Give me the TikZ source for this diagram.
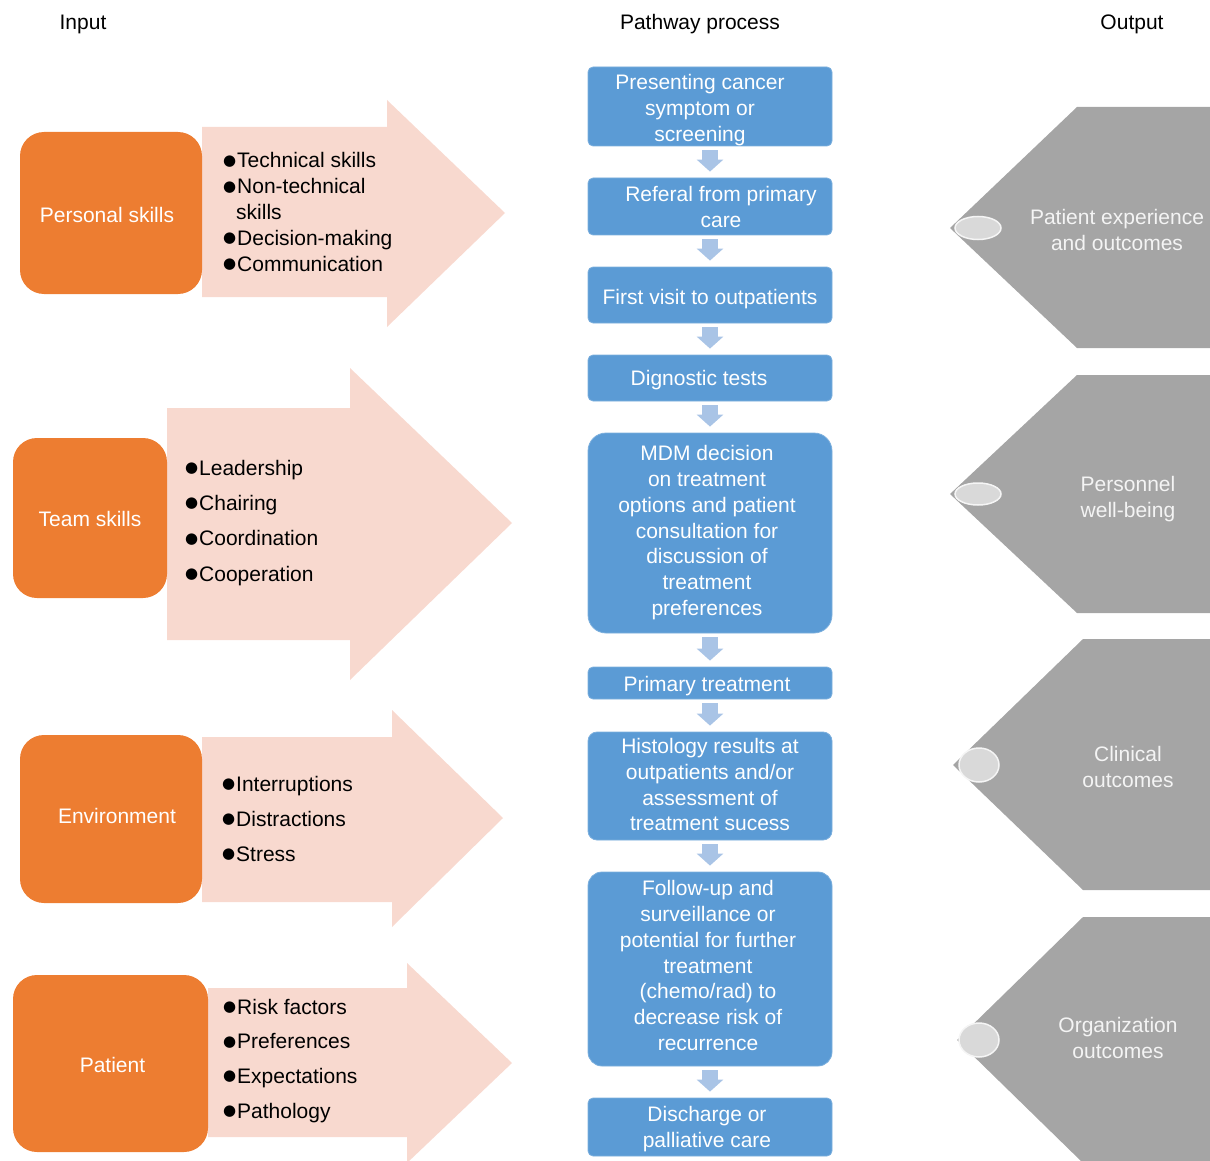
\documentclass[tikz,border=0pt]{standalone}
\usepackage{fontspec}
\setmainfont{Liberation Sans}
\newfontfamily\dejavu{DejaVu Sans}
\usetikzlibrary{arrows.meta,shapes.geometric}
\definecolor{orangeC}{HTML}{ED7D31}
\definecolor{pinkC}{HTML}{F8D9CF}
\definecolor{blueC}{HTML}{5B9BD5}
\definecolor{arrowC}{HTML}{A9C4E6}
\definecolor{grayC}{HTML}{A5A5A5}
\definecolor{ellC}{HTML}{D9D9D9}
\definecolor{txtC}{HTML}{F4F4F4}
\newcommand{\btext}[3][3pt]{\hspace*{#2}\raisebox{-#1}[\height][\depth]{\begin{tabular}{@{}c@{}}#3\end{tabular}}}
\newcommand{\bl}{\makebox[14pt][l]{\raisebox{2.5pt}{\dejavu\fontsize{15}{15}\selectfont ●}}}
\newcommand{\blist}[2]{{\renewcommand{\arraystretch}{#1}\begin{tabular}[t]{@{}l@{}}#2\end{tabular}}}
\begin{document}
\begin{tikzpicture}[x=1pt,y=-1pt,
  every node/.style={font=\fontsize{21}{25.8}\selectfont, inner sep=0pt},
  bluebox/.style={fill=blueC, draw=blueC!80!white, line width=0.8pt, rounded corners=5pt,
    minimum width=244pt, text=white},
  orangebox/.style={fill=orangeC, rounded corners=24pt, text=white},
  pinkarrow/.style={fill=pinkC},
  grayshape/.style={fill=grayC},
  dotmark/.style={ellipse, fill=ellC, draw=white!92!gray, line width=1.5pt},
  graytext/.style={text=txtC},
  listtext/.style={anchor=base west, text=black},
  flow/.style={draw=arrowC, line width=16pt, -{Triangle[width=26pt,length=12pt]},
    shorten <=4pt, shorten >=6pt}
]
\useasboundingbox (0,0) rectangle (1210,1161);

% headers
\node (hin) at (83,24) {Input};
\node (hpath) at (700,24) {Pathway process};
\node (hout) at (1132,24) {Output};

% pink arrows
\fill[pinkarrow] (202,127) -- (387,127) -- (387,100) -- (505,213) -- (387,327) -- (387,297) -- (202,297) -- cycle;
\fill[pinkarrow] (167,408) -- (350,408) -- (350,368) -- (512,523) -- (350,680) -- (350,640) -- (167,640) -- cycle;
\fill[pinkarrow] (202,737) -- (392,737) -- (392,710) -- (503,818) -- (392,927) -- (392,902) -- (202,902) -- cycle;
\fill[pinkarrow] (208,988) -- (407,988) -- (407,963) -- (512,1063) -- (407,1163) -- (407,1137) -- (208,1137) -- cycle;

% orange boxes
\node[orangebox, minimum width=182pt, minimum height=162pt] (o1) at (111,213) {\btext[4pt]{-8pt}{Personal skills}};
\node[orangebox, minimum width=154pt, minimum height=160pt] (o2) at (90,518) {\btext[3pt]{0pt}{Team skills}};
\node[orangebox, minimum width=182pt, minimum height=168pt] (o3) at (111,819) {\btext[-1pt]{12pt}{Environment}};
\node[orangebox, minimum width=195pt, minimum height=177pt] (o4) at (110.5,1063.5) {\btext[4pt]{4pt}{Patient}};

% lists
\node[listtext] (l1) at (223,168) {\blist{1}{\bl Technical skills\\\bl Non-technical\\\hspace*{13pt}skills\\\bl Decision-making\\\bl Communication}};
\node[listtext] (l2) at (185,475) {\blist{1.37}{\bl Leadership\\\bl Chairing\\\bl Coordination\\\bl Cooperation}};
\node[listtext] (l3) at (222,791) {\blist{1.357}{\bl Interruptions\\\bl Distractions\\\bl Stress}};
\node[listtext] (l4) at (223,1014) {\blist{1.345}{\bl Risk factors\\\bl Preferences\\\bl Expectations\\\bl Pathology}};

% pathway boxes
\node[bluebox, minimum height=79pt] (b1) at (710,106.5) {\btext[4pt]{-20pt}{Presenting cancer\\symptom or\\screening}};
\node[bluebox, minimum height=57pt] (b2) at (710,206.5) {\btext[3pt]{22pt}{Referal from primary\\care}};
\node[bluebox, minimum height=56pt] (b3) at (710,295) {\btext[4pt]{0pt}{First visit to outpatients}};
\node[bluebox, minimum height=46pt] (b4) at (710,378) {\btext[2pt]{-22pt}{Dignostic tests}};
\node[bluebox, minimum height=200pt, rounded corners=18pt] (b5) at (710,533) {\btext[0pt]{-6pt}{MDM decision\\on treatment\\options and patient\\consultation for\\discussion of\\treatment\\preferences}};
\node[bluebox, minimum height=32pt] (b6) at (710,683) {\btext[3pt]{-6pt}{Primary treatment}};
\node[bluebox, minimum height=108pt, rounded corners=9pt] (b7) at (710,786) {\btext[1pt]{0pt}{Histology results at\\outpatients and/or\\assessment of\\treatment sucess}};
\node[bluebox, minimum height=194pt, rounded corners=14pt] (b8) at (710,969) {\btext[-1pt]{-4pt}{Follow-up and\\surveillance or\\potential for further\\treatment\\(chemo/rad) to\\decrease risk of\\recurrence}};
\node[bluebox, minimum height=58pt] (b9) at (710,1127) {\btext[2pt]{-6pt}{Discharge or\\palliative care}};

% connectors
\draw[flow] (b1) -- (b2);
\draw[flow] (b2) -- (b3);
\draw[flow] (b3) -- (b4);
\draw[flow] (b4) -- (b5);
\draw[flow] (b5) -- (b6);
\draw[flow] (b6) -- (b7);
\draw[flow] (b7) -- (b8);
\draw[flow] (b8) -- (b9);

% output shapes
\fill[grayshape] (1215,107) -- (1077,107) -- (950,228) -- (1077,348) -- (1215,348) -- cycle;
\fill[grayshape] (1215,375) -- (1077,375) -- (950,494) -- (1077,613) -- (1215,613) -- cycle;
\fill[grayshape] (1215,639) -- (1083,639) -- (953,765) -- (1083,890) -- (1215,890) -- cycle;
\fill[grayshape] (1215,917) -- (1083,917) -- (957,1040) -- (1083,1163) -- (1215,1163) -- cycle;

\node[dotmark, minimum width=46pt, minimum height=23pt] (e1) at (978,228) {};
\node[dotmark, minimum width=46pt, minimum height=22pt] (e2) at (978,494) {};
\node[dotmark, minimum width=40pt, minimum height=34pt] (e3) at (979,765) {};
\node[dotmark, minimum width=40pt, minimum height=34pt] (e4) at (979,1040) {};

\node[graytext] (g1) at (1117,229.5) {\btext[2.5pt]{0pt}{Patient experience\\and outcomes}};
\node[graytext] (g2) at (1128,496.5) {\btext[3pt]{0pt}{Personnel\\well-being}};
\node[graytext] (g3) at (1128,767) {\btext[2pt]{0pt}{Clinical\\outcomes}};
\node[graytext] (g4) at (1118,1038) {\btext[2pt]{0pt}{Organization\\outcomes}};
\end{tikzpicture}
\end{document}
